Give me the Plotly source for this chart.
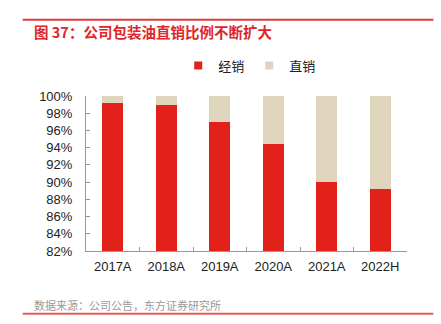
import plotly.graph_objects as go

categories = ["2017A", "2018A", "2019A", "2020A", "2021A", "2022H"]
distribution = [0.992, 0.990, 0.970, 0.944, 0.900, 0.892]   # 经销
direct = [0.008, 0.010, 0.030, 0.056, 0.100, 0.108]         # 直销
y_ticks = [0.82, 0.84, 0.86, 0.88, 0.90, 0.92, 0.94, 0.96, 0.98, 1.00]
series_names = ["经销", "直销"]
series_colors = ["#e2211b", "#ded5bc"]

title_text = "图 37：公司包装油直销比例不断扩大"
source_text = "数据来源：公司公告，东方证券研究所"

W, H = 441, 324
L, R, T, B = 85.5, 33.5, 95.5, 73
PW, PH = W - L - R, H - T - B
FONT = "Liberation Sans, Arial, Noto Sans CJK SC, sans-serif"
CJK = "Noto Sans CJK SC, sans-serif"


def px_x(x):
    return (x - L) / PW


def px_y(y):
    return (H - B - y) / PH


fig = go.Figure()
fig.add_trace(go.Bar(x=categories, y=distribution, name=series_names[0], showlegend=False,
                     marker=dict(color=series_colors[0], line=dict(width=0))))
fig.add_trace(go.Bar(x=categories, y=direct, name=series_names[1], showlegend=False,
                     marker=dict(color=series_colors[1], line=dict(width=0))))
# legend entries with small square swatches
for name, color in zip(series_names, series_colors):
    fig.add_trace(go.Scatter(x=[None], y=[None], mode="markers", name=name,
                             marker=dict(symbol="square", size=8, color=color)))

fig.update_layout(
    width=W, height=H,
    barmode="stack", bargap=0.6,
    margin=dict(l=L, r=R, t=T, b=B, pad=0, autoexpand=False),
    paper_bgcolor="white", plot_bgcolor="white",
    font=dict(family=FONT, size=13, color="#222222"),
    showlegend=True,
    legend=dict(orientation="h", xref="paper", yref="paper",
                x=px_x(178), xanchor="left", y=px_y(65), yanchor="middle",
                font=dict(size=13, color="#222222", family=CJK),
                itemwidth=30, tracegroupgap=0, traceorder="normal",
                bgcolor="rgba(0,0,0,0)"),
    xaxis=dict(showline=True, linecolor="#999999", linewidth=1,
               ticks="inside", ticklen=4, tickcolor="#999999", tickson="boundaries",
               tickfont=dict(size=13, color="#222222"), showgrid=False, zeroline=False,
               ticklabelstandoff=3),
    yaxis=dict(range=[0.82, 1.0], tickvals=y_ticks, tickformat=".0%",
               showline=True, linecolor="#999999", linewidth=1,
               ticks="inside", ticklen=4, tickcolor="#999999",
               tickfont=dict(size=13, color="#222222"), showgrid=False, zeroline=False,
               ticklabelstandoff=10),
    shapes=[
        dict(type="line", xref="paper", yref="paper", layer="above",
             x0=px_x(22), x1=px_x(434), y0=px_y(19), y1=px_y(19),
             line=dict(color="#e3383d", width=2)),
        dict(type="line", xref="paper", yref="paper", layer="above",
             x0=px_x(22), x1=px_x(434), y0=px_y(314), y1=px_y(314),
             line=dict(color="#e85a5e", width=2)),
    ],
    annotations=[
        dict(text="<b>" + title_text + "</b>", xref="paper", yref="paper",
             x=px_x(31), y=px_y(31), xanchor="left", yanchor="middle",
             showarrow=False, font=dict(size=14.5, color="#e0262a", family=CJK)),
        dict(text=source_text, xref="paper", yref="paper",
             x=px_x(31), y=px_y(305), xanchor="left", yanchor="middle",
             showarrow=False, font=dict(size=11, color="#999999", family=CJK)),
    ],
)

fig.write_html("out.html")
